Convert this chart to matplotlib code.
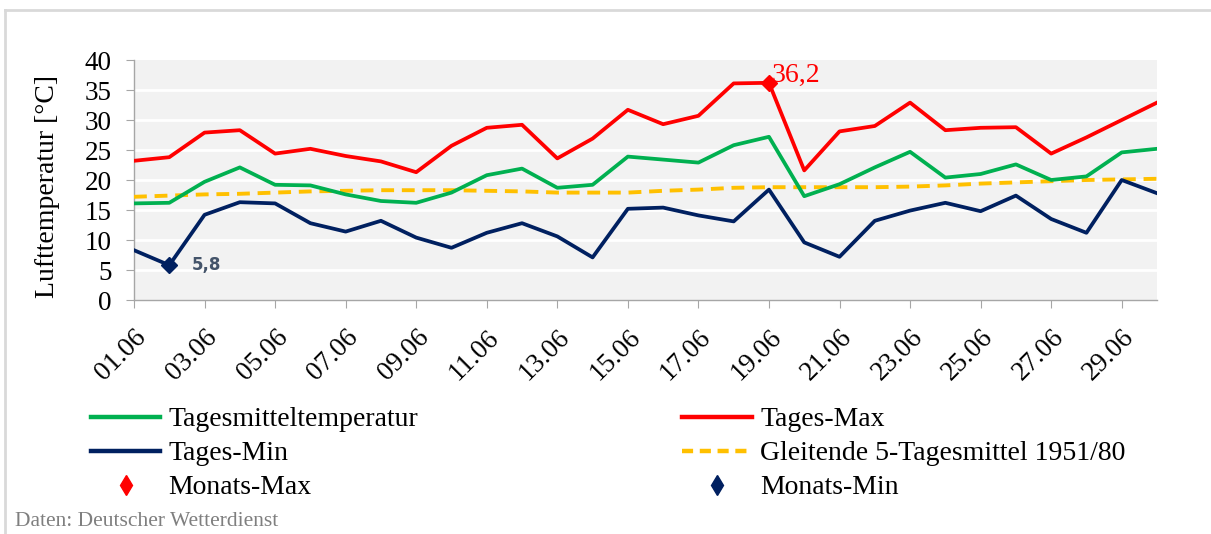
import matplotlib
matplotlib.use("Agg")
from matplotlib import pyplot as plt
from matplotlib.lines import Line2D

days = list(range(1, 31))
tages_mittel = [16.1, 16.2, 19.7, 22.1, 19.2, 19.1, 17.6, 16.5, 16.2, 17.9,
                20.8, 21.9, 18.7, 19.2, 23.9, 23.4, 22.9, 25.8, 27.2, 17.3,
                19.3, 22.1, 24.7, 20.4, 21.0, 22.6, 20.0, 20.6, 24.6, 25.2]
tages_max = [23.2, 23.8, 27.9, 28.3, 24.4, 25.2, 24.0, 23.1, 21.3, 25.7,
             28.7, 29.2, 23.6, 26.9, 31.7, 29.3, 30.7, 36.1, 36.2, 21.6,
             28.1, 29.0, 32.9, 28.3, 28.7, 28.8, 24.4, 27.1, 30.0, 32.9]
tages_min = [8.3, 5.8, 14.2, 16.3, 16.1, 12.8, 11.4, 13.2, 10.4, 8.7,
             11.2, 12.8, 10.6, 7.1, 15.2, 15.4, 14.1, 13.1, 18.4, 9.6,
             7.2, 13.2, 14.9, 16.2, 14.8, 17.4, 13.5, 11.2, 20.0, 17.8]
gleitend_5t = [17.2, 17.4, 17.6, 17.7, 17.9, 18.1, 18.2, 18.3, 18.3, 18.3,
               18.2, 18.1, 17.9, 17.9, 17.9, 18.2, 18.4, 18.7, 18.8, 18.8,
               18.8, 18.8, 18.9, 19.1, 19.4, 19.6, 19.8, 20.0, 20.1, 20.2]
monats_max = (19, 36.2)
monats_min = (2, 5.8)
tick_days = list(range(1, 31, 2))
tick_labels = ["%02d.06" % d for d in tick_days]

green = "#00B050"
red = "#FF0000"
navy = "#002060"
yellow = "#FFC000"
serif = ["Liberation Serif", "DejaVu Serif"]

plt.rcParams['font.family'] = serif

fig = plt.figure(figsize=(12.11, 5.34), dpi=100)
ax = fig.add_axes([134 / 1211, 1 - 300 / 534, (1157 - 134) / 1211, 240 / 534])
ax.set_facecolor("#F2F2F2")

ax.plot(days, gleitend_5t, color=yellow, lw=2.8, dashes=(3.3, 2.0), zorder=3)
ax.plot(days, tages_max, color=red, lw=2.7, zorder=4)
ax.plot(days, tages_mittel, color=green, lw=2.7, zorder=4)
ax.plot(days, tages_min, color=navy, lw=2.7, zorder=4)
ax.plot(*monats_max, marker="D", ms=8, color=red, zorder=5)
ax.plot(*monats_min, marker="D", ms=8, color=navy, zorder=5)

ax.annotate("36,2", monats_max, xytext=(2, 5), textcoords="offset points",
            color=red, fontsize=20, va="center", ha="left")
ax.annotate("5,8", monats_min, xytext=(16, 0), textcoords="offset points",
            color="#44546A", fontsize=12, fontweight="bold", va="center",
            ha="left", family="DejaVu Sans")

ax.set_xlim(1, 30)
ax.set_ylim(0, 40)
ax.set_yticks(range(0, 45, 5))
ax.set_xticks(tick_days)
ax.set_xticklabels(tick_labels, rotation=45, ha="right", va="top",
                   rotation_mode="anchor")
for y in range(5, 40, 5):
    ax.axhline(y, color="white", lw=2, zorder=1)

for s in ["top", "right"]:
    ax.spines[s].set_visible(False)
for s in ["left", "bottom"]:
    ax.spines[s].set_color("#A6A6A6")
    ax.spines[s].set_linewidth(1)
ax.tick_params(axis="both", length=6, color="#A6A6A6", labelsize=19.5,
               direction="out")
ax.tick_params(axis="x", pad=12)
ax.tick_params(axis="y", pad=10)
ax.set_ylabel("Lufttemperatur [°C]", fontsize=20)
ax.yaxis.set_label_coords(-0.072, 0.475)

handles = [
    Line2D([], [], color=green, lw=3.2),
    Line2D([], [], color=navy, lw=3.2),
    Line2D([], [], color=red, marker="d", ms=10, lw=0),
    Line2D([], [], color=red, lw=3.2),
    Line2D([], [], color=yellow, lw=3.2, dashes=(2.5, 1.5)),
    Line2D([], [], color=navy, marker="d", ms=10, lw=0),
]
labels = ["Tagesmitteltemperatur", "Tages-Min", "Monats-Max",
          "Tages-Max", "Gleitende 5-Tagesmittel 1951/80", "Monats-Min"]
fig.legend(handles, labels, ncol=2, loc="upper left",
           bbox_to_anchor=(77 / 1211, 1 - 393 / 534), frameon=False,
           fontsize=20, handlelength=2.5, handletextpad=0.3,
           columnspacing=9.5, labelspacing=0.31, borderpad=0)

fig.text(15 / 1211, 1 - 522 / 534, "Daten: Deutscher Wetterdienst",
         color="#7F7F7F", fontsize=15.5, va="center", ha="left")

fig.add_artist(Line2D([5 / 1211, 5 / 1211], [0, 1 - 10 / 534],
                      color="#D9D9D9", lw=2, transform=fig.transFigure))
fig.add_artist(Line2D([5 / 1211, 1], [1 - 10 / 534, 1 - 10 / 534],
                      color="#D9D9D9", lw=2, transform=fig.transFigure))

fig.savefig("out.png", dpi=100)
